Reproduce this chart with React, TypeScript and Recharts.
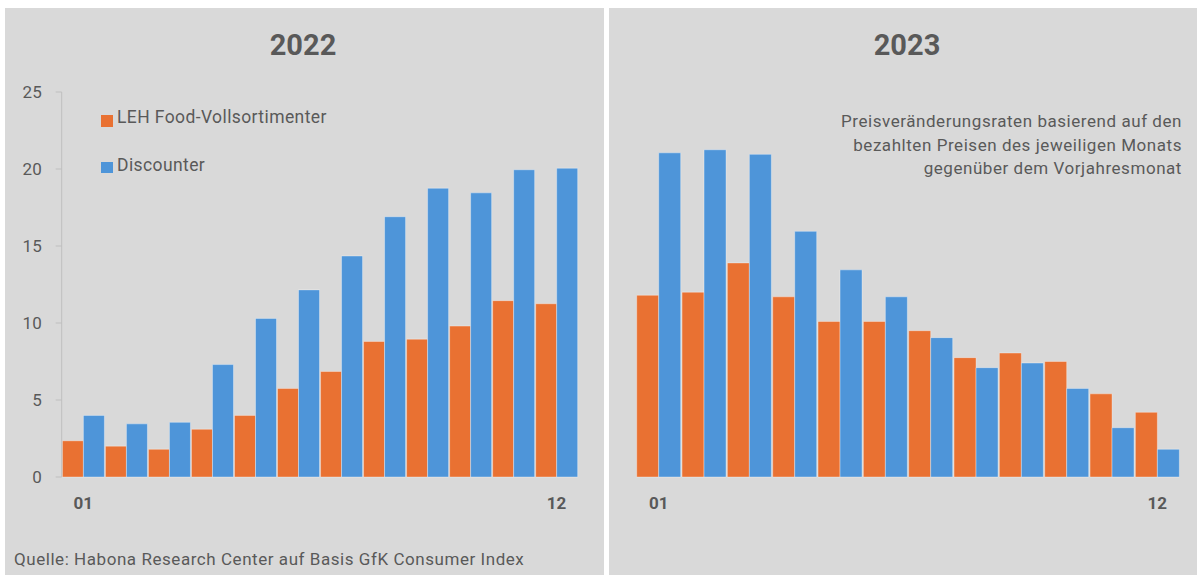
import React from 'react';
import { BarChart, Bar, XAxis, YAxis } from 'recharts';

const months = ['01', '02', '03', '04', '05', '06', '07', '08', '09', '10', '11', '12'];
const leh2022 = [2.35, 2.0, 1.8, 3.1, 4.0, 5.75, 6.85, 8.8, 8.95, 9.8, 11.45, 11.25];
const disc2022 = [4.0, 3.45, 3.55, 7.3, 10.3, 12.15, 14.35, 16.9, 18.75, 18.45, 19.95, 20.05];
const leh2023 = [11.8, 12.0, 13.9, 11.7, 10.1, 10.1, 9.5, 7.75, 8.05, 7.5, 5.4, 4.2];
const disc2023 = [21.05, 21.25, 20.95, 15.95, 13.45, 11.7, 9.05, 7.1, 7.4, 5.75, 3.2, 1.8];
const yTicks = [0, 5, 10, 15, 20, 25];

const ORANGE = '#E97132';
const BLUE = '#4E95D9';
const TEXT = '#595959';
const PANEL = '#D9D9D9';
const FONT = 'Roboto, "Noto Sans", sans-serif';

const data2022 = months.map((m, i) => ({ month: m, leh: leh2022[i], disc: disc2022[i] }));
const data2023 = months.map((m, i) => ({ month: m, leh: leh2023[i], disc: disc2023[i] }));

const edgeTicks = (v: string) => (v === '01' || v === '12' ? v : '');

function Bars() {
  return (
    <>
      <Bar dataKey="leh" name="LEH Food-Vollsortimenter" fill={ORANGE} stroke="rgba(255,255,255,0.35)" strokeWidth={1} isAnimationActive={false} />
      <Bar dataKey="disc" name="Discounter" fill={BLUE} stroke="rgba(255,255,255,0.35)" strokeWidth={1} isAnimationActive={false} />
    </>
  );
}

export default function App() {
  const xTick = { fill: TEXT, fontSize: 17, fontWeight: 700, fontFamily: FONT };
  return (
    <div style={{ position: 'absolute', left: 0, top: 0, width: 1197, height: 577, background: '#fff', overflow: 'hidden', fontFamily: FONT }}>
      <div style={{ position: 'absolute', left: 5, top: 8, width: 599, height: 567, background: PANEL }} />
      <div style={{ position: 'absolute', left: 609, top: 8, width: 588, height: 567, background: PANEL }} />

      <div style={{ position: 'absolute', left: 0, top: 0 }}>
        <BarChart width={603} height={577} data={data2022} margin={{ top: 92, right: 25, bottom: 60, left: 0 }} barGap={0} barCategoryGap={0.7}>
          <XAxis dataKey="month" interval={0} tickFormatter={edgeTicks} axisLine={false} tickLine={false} tickSize={0} tickMargin={20} height={40} tick={xTick} />
          <YAxis
            domain={[0, 25]}
            ticks={yTicks}
            width={61.7}
            axisLine={{ stroke: '#BFBFBF' }}
            tickLine={{ stroke: '#BFBFBF' }}
            tickSize={6}
            tickMargin={14}
            tick={{ fill: TEXT, fontSize: 17, fontFamily: FONT }}
          />
          {Bars()}
        </BarChart>
      </div>

      <div style={{ position: 'absolute', left: 609, top: 0 }}>
        <BarChart width={588} height={577} data={data2023} margin={{ top: 92, right: 17, bottom: 60, left: 27 }} barGap={0} barCategoryGap={0.7}>
          <XAxis dataKey="month" interval={0} tickFormatter={edgeTicks} axisLine={false} tickLine={false} tickSize={0} tickMargin={20} height={40} tick={xTick} />
          <YAxis hide domain={[0, 25]} ticks={yTicks} />
          {Bars()}
        </BarChart>
      </div>

      <div style={{ position: 'absolute', left: 203, width: 200, top: 28, textAlign: 'center', fontSize: 29, fontWeight: 700, color: TEXT }}>2022</div>
      <div style={{ position: 'absolute', left: 807, width: 200, top: 28, textAlign: 'center', fontSize: 29, fontWeight: 700, color: TEXT }}>2023</div>

      <div style={{ position: 'absolute', left: 101, top: 115, width: 11.5, height: 11.5, background: ORANGE }} />
      <div style={{ position: 'absolute', left: 117, top: 107, fontSize: 17.5, letterSpacing: 0.4, color: TEXT }}>LEH Food-Vollsortimenter</div>
      <div style={{ position: 'absolute', left: 101, top: 161.5, width: 11.5, height: 11.5, background: BLUE }} />
      <div style={{ position: 'absolute', left: 117, top: 155, fontSize: 17.5, letterSpacing: 0.4, color: TEXT }}>Discounter</div>

      <div style={{ position: 'absolute', right: 15, top: 110, textAlign: 'right', fontSize: 17, lineHeight: '23.5px', letterSpacing: 0.55, color: TEXT }}>
        Preisveränderungsraten basierend auf den
        <br />
        bezahlten Preisen des jeweiligen Monats
        <br />
        gegenüber dem Vorjahresmonat
      </div>

      <div style={{ position: 'absolute', left: 14, top: 549, fontSize: 17, letterSpacing: 0.55, color: TEXT }}>
        Quelle: Habona Research Center auf Basis GfK Consumer Index
      </div>
    </div>
  );
}
